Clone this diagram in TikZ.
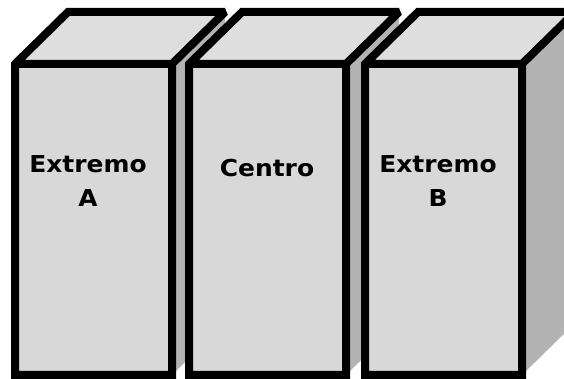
\documentclass[tikz,border=0pt]{standalone}
\usepackage{fontspec}
\newfontfamily\lblfont{DejaVu Sans Bold}[FakeStretch=1.07]
\definecolor{topgray}{HTML}{DEDEDE}
\definecolor{frontgray}{HTML}{D8D8D8}
\definecolor{sidegray}{HTML}{B3B3B3}
\tikzset{
  edge/.style={draw=black, line width=8pt, line join=miter, miter limit=2},
  lbl/.style={inner sep=0pt, align=center, font=\lblfont\fontsize{23.3}{34}\selectfont, text=black}
}
\begin{document}
\begin{tikzpicture}[x=1pt,y=1pt]
\useasboundingbox (0,0) rectangle (564,379);
\clip (0,0) rectangle (564,379);
\foreach \L/\n in {15/a,189/b,365/c}{
  \pgfmathsetmacro{\R}{\L+157}
  % side face
  \fill[sidegray] (\R,4) -- (\R,315) -- (\R+53,367) -- (\R+53,56) -- cycle;
  % top and front faces
  \fill[topgray] (\L,315) -- (\L+53,367) -- (\R+53,367) -- (\R,315) -- cycle;
  \fill[frontgray] (\L,4) rectangle (\R,315);
  % outline
  \draw[edge] (\L,4) -- (\L,315) -- (\L+53,367) -- (\R+53,367) -- (\R,315) -- (\R,4) -- cycle
              (\L,315) -- (\R,315);
}
\node[lbl] (extA) at (88,198) {Extremo\\A};
\node[lbl] (cen) at (267,211) {Centro};
\node[lbl] (extB) at (438,198) {Extremo\\B};
\end{tikzpicture}
\end{document}
